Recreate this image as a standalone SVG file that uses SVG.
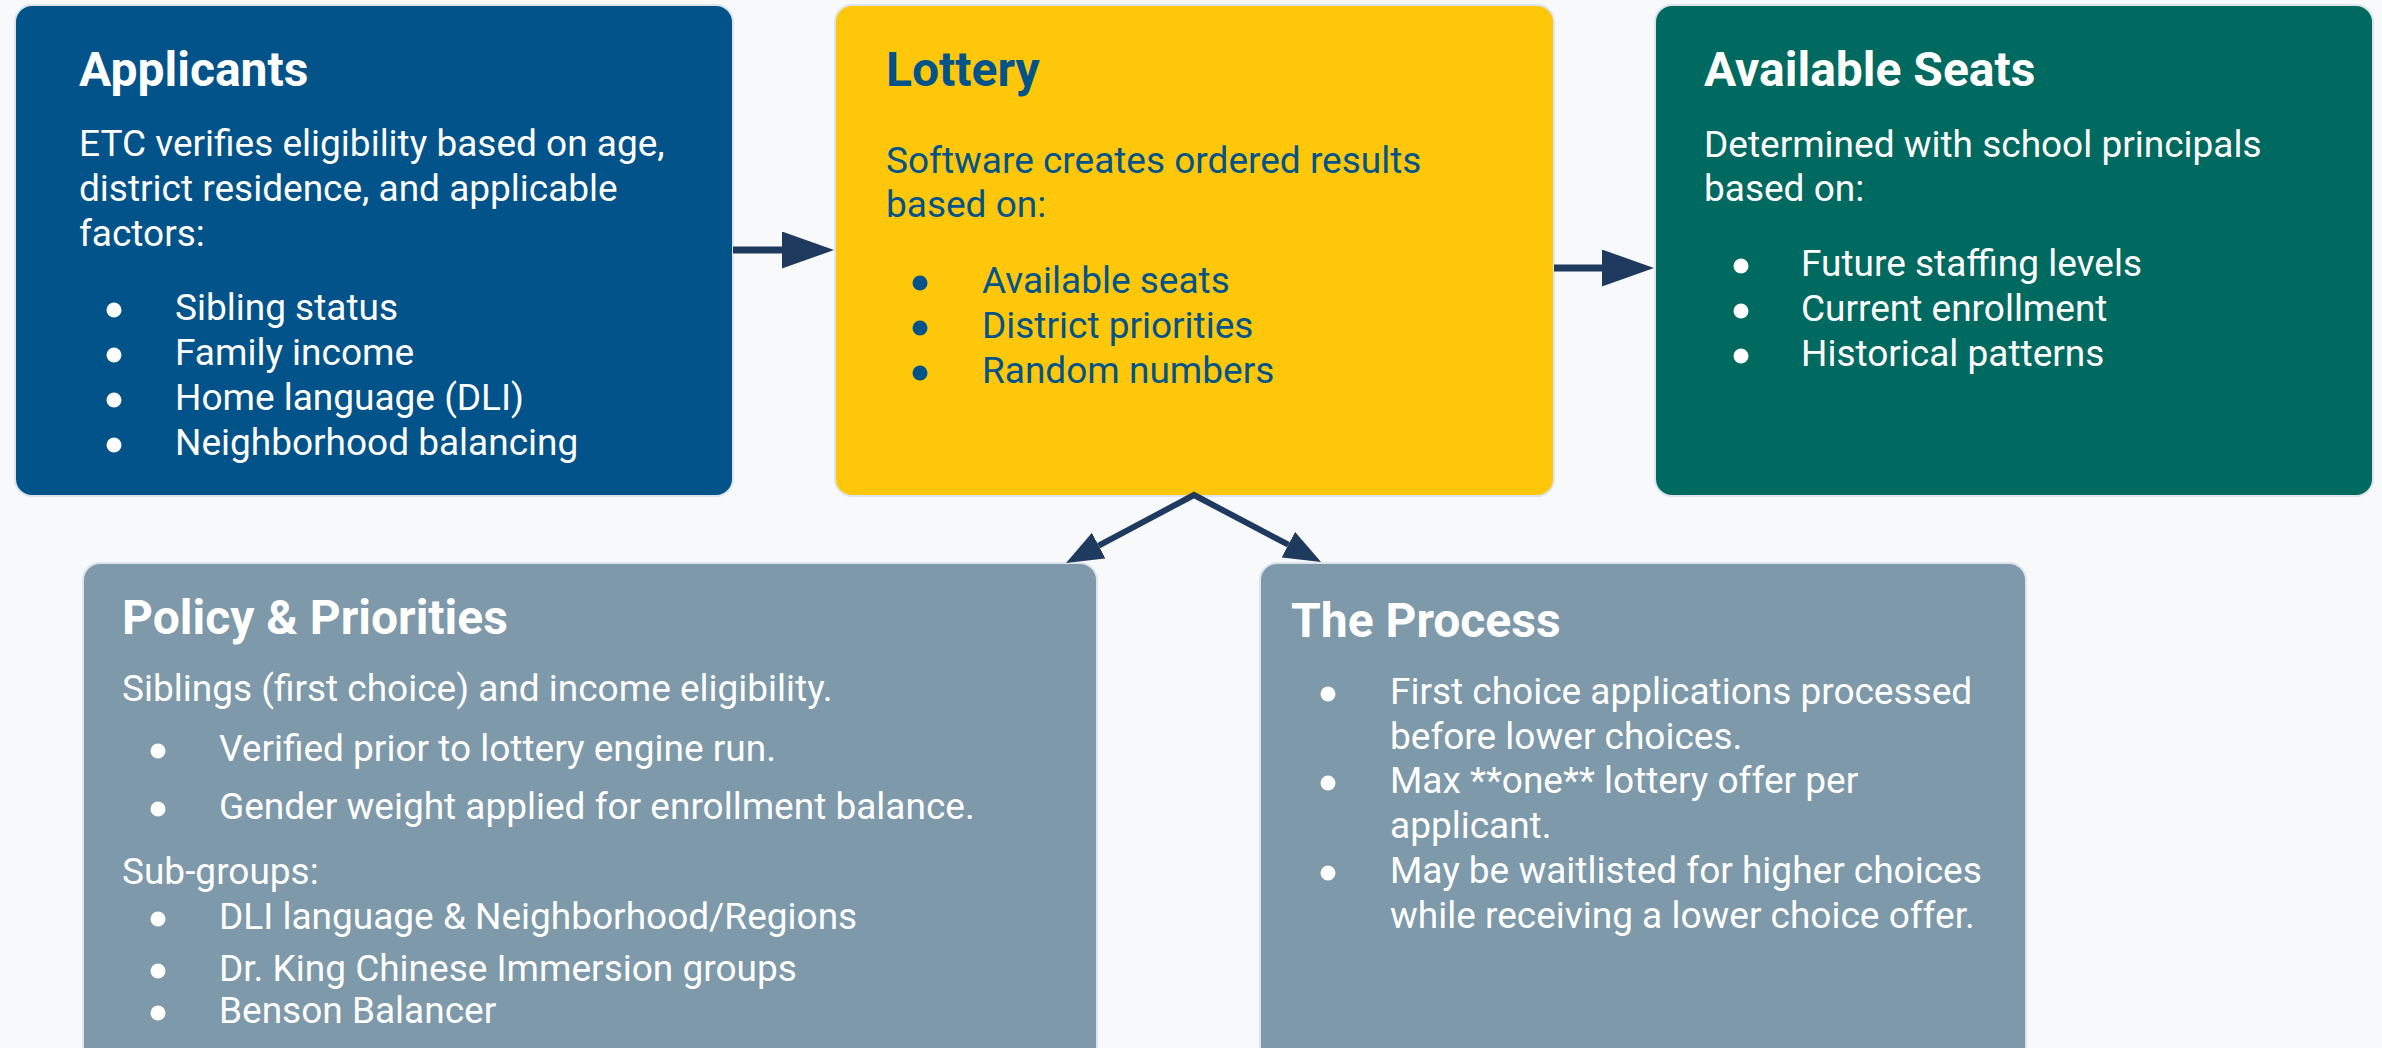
<svg xmlns="http://www.w3.org/2000/svg" width="2382" height="1048" viewBox="0 0 2382 1048">
<style>
text{font-family:Roboto,"Liberation Sans",sans-serif}
.title{font-size:48px;font-weight:700}
.body{font-size:37px}
.box{stroke:#dde4ec;stroke-width:2}
.w{fill:#ffffff}
.b{fill:#01538a}
.conn{stroke:#1e3a5f;fill:none}
</style>
<defs>
<marker id="ahH" markerUnits="userSpaceOnUse" markerWidth="52" markerHeight="37" refX="0" refY="18.5" orient="auto">
<path d="M0,0 L52,18.5 L0,37 z" fill="#1e3a5f"/>
</marker>
<marker id="ahD" markerUnits="userSpaceOnUse" markerWidth="37" markerHeight="29" refX="0" refY="14.5" orient="auto-start-reverse">
<path d="M0,0 L37,14.5 L0,29 z" fill="#1e3a5f"/>
</marker>
</defs>
<rect width="2382" height="1048" fill="#f8f9fb"/>

<g id="applicants">
<rect class="box" x="15" y="5" width="718" height="491" rx="17" fill="#01538a"/>
<text class="title w" x="79" y="86">Applicants</text>
<text class="body w" x="79" y="156">ETC verifies eligibility based on age,</text>
<text class="body w" x="79" y="201">district residence, and applicable</text>
<text class="body w" x="79" y="246">factors:</text>
<g class="w">
<circle cx="114" cy="310" r="7.5"/><circle cx="114" cy="355" r="7.5"/><circle cx="114" cy="400" r="7.5"/><circle cx="114" cy="445" r="7.5"/>
</g>
<text class="body w" x="175" y="320">Sibling status</text>
<text class="body w" x="175" y="365">Family income</text>
<text class="body w" x="175" y="410">Home language (DLI)</text>
<text class="body w" x="175" y="455">Neighborhood balancing</text>
</g>

<g id="lottery">
<rect class="box" x="835" y="5" width="719" height="491" rx="17" fill="#ffc709"/>
<text class="title b" x="886" y="86">Lottery</text>
<text class="body b" x="886" y="173">Software creates ordered results</text>
<text class="body b" x="886" y="217">based on:</text>
<g class="b">
<circle cx="920" cy="283" r="7.5"/><circle cx="920" cy="328" r="7.5"/><circle cx="920" cy="373" r="7.5"/>
</g>
<text class="body b" x="982" y="293">Available seats</text>
<text class="body b" x="982" y="338">District priorities</text>
<text class="body b" x="982" y="383">Random numbers</text>
</g>

<g id="available-seats">
<rect class="box" x="1655" y="5" width="718" height="491" rx="17" fill="#006a60"/>
<text class="title w" x="1704" y="86">Available Seats</text>
<text class="body w" x="1704" y="157">Determined with school principals</text>
<text class="body w" x="1704" y="201">based on:</text>
<g class="w">
<circle cx="1741" cy="266" r="7.5"/><circle cx="1741" cy="311" r="7.5"/><circle cx="1741" cy="356" r="7.5"/>
</g>
<text class="body w" x="1801" y="276">Future staffing levels</text>
<text class="body w" x="1801" y="321">Current enrollment</text>
<text class="body w" x="1801" y="366">Historical patterns</text>
</g>

<g id="policy-priorities">
<rect class="box" x="83" y="563" width="1014" height="520" rx="17" fill="#7d99aa"/>
<text class="title w" x="122" y="634">Policy &amp; Priorities</text>
<text class="body w" x="122" y="701">Siblings (first choice) and income eligibility.</text>
<g class="w">
<circle cx="158" cy="751" r="7.5"/><circle cx="158" cy="809" r="7.5"/>
<circle cx="158" cy="919" r="7.5"/><circle cx="158" cy="971" r="7.5"/><circle cx="158" cy="1013" r="7.5"/>
</g>
<text class="body w" x="219" y="761">Verified prior to lottery engine run.</text>
<text class="body w" x="219" y="819">Gender weight applied for enrollment balance.</text>
<text class="body w" x="122" y="884">Sub-groups:</text>
<text class="body w" x="219" y="929">DLI language &amp; Neighborhood/Regions</text>
<text class="body w" x="219" y="981">Dr. King Chinese Immersion groups</text>
<text class="body w" x="219" y="1023">Benson Balancer</text>
</g>

<g id="the-process">
<rect class="box" x="1260" y="563" width="766" height="520" rx="17" fill="#7d99aa"/>
<text class="title w" x="1291" y="637">The Process</text>
<g class="w">
<circle cx="1328" cy="694" r="7.5"/><circle cx="1328" cy="783" r="7.5"/><circle cx="1328" cy="873" r="7.5"/>
</g>
<text class="body w" x="1390" y="704">First choice applications processed</text>
<text class="body w" x="1390" y="749">before lower choices.</text>
<text class="body w" x="1390" y="793">Max **one** lottery offer per</text>
<text class="body w" x="1390" y="838">applicant.</text>
<text class="body w" x="1390" y="883">May be waitlisted for higher choices</text>
<text class="body w" x="1390" y="928">while receiving a lower choice offer.</text>
</g>

<g id="connectors">
<line class="conn" x1="733" y1="250" x2="782" y2="250" stroke-width="7" marker-end="url(#ahH)"/>
<line class="conn" x1="1554" y1="268" x2="1602" y2="268" stroke-width="7" marker-end="url(#ahH)"/>
<polyline class="conn" points="1098.7,545.6 1194,495 1288.3,544.7" stroke-width="6" stroke-linejoin="miter" marker-start="url(#ahD)" marker-end="url(#ahD)"/>
</g>
</svg>
